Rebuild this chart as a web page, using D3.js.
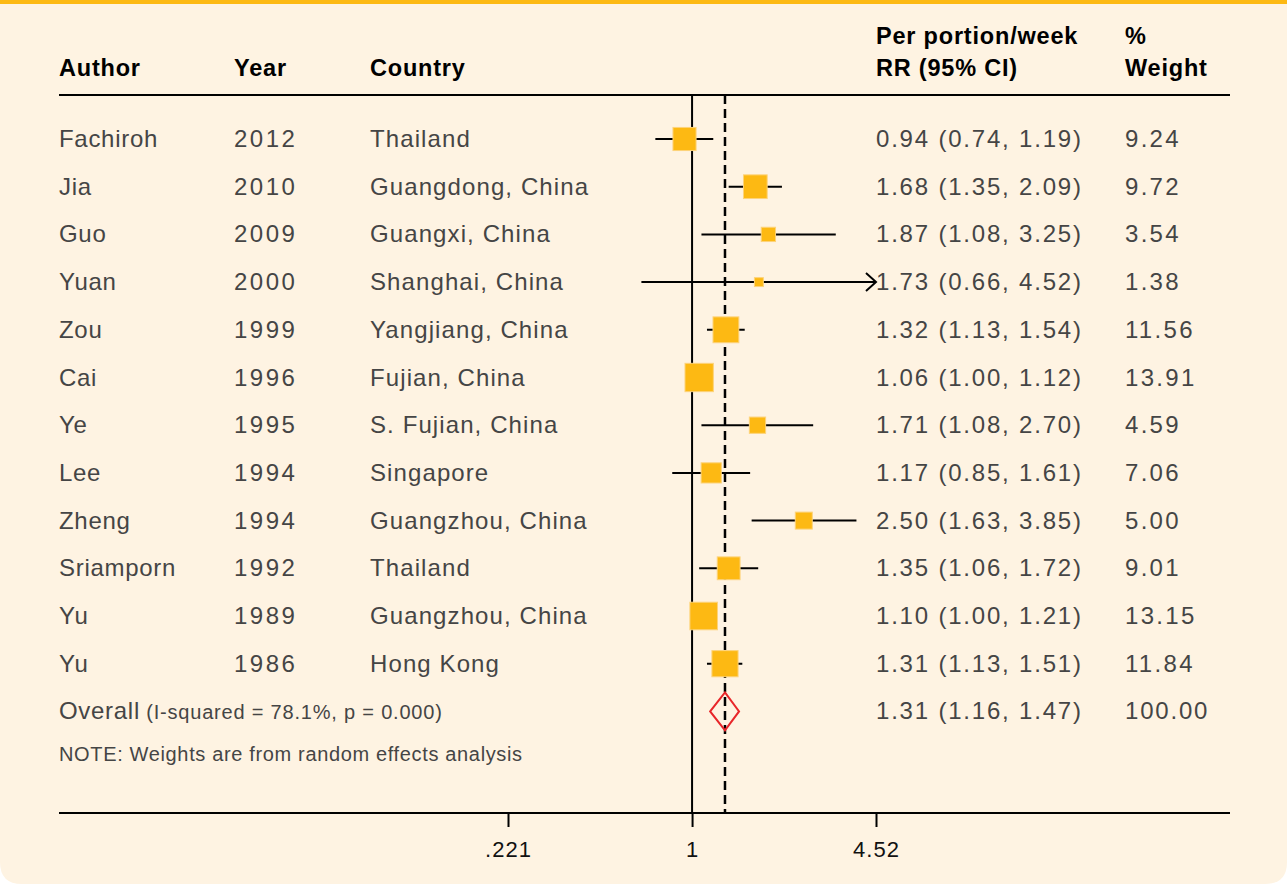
<!DOCTYPE html>
<html>
<head>
<meta charset="utf-8">
<script src="https://cdn.jsdelivr.net/npm/d3@7"></script>
<style>
  body { margin: 0; background: #fff; }
  text { font-family: "Liberation Sans", Arial, sans-serif; }
</style>
</head>
<body>
<div id="chart"></div>
<script>
(function() {

  // study rows, top to bottom
  var authors   = ["Fachiroh", "Jia", "Guo", "Yuan", "Zou", "Cai", "Ye", "Lee", "Zheng", "Sriamporn", "Yu", "Yu"];
  var years     = ["2012", "2010", "2009", "2000", "1999", "1996", "1995", "1994", "1994", "1992", "1989", "1986"];
  var countries = ["Thailand", "Guangdong, China", "Guangxi, China", "Shanghai, China", "Yangjiang, China",
                   "Fujian, China", "S. Fujian, China", "Singapore", "Guangzhou, China", "Thailand",
                   "Guangzhou, China", "Hong Kong"];
  var rr      = [0.94, 1.68, 1.87, 1.73, 1.32, 1.06, 1.71, 1.17, 2.50, 1.35, 1.10, 1.31];
  var ciLow   = [0.74, 1.35, 1.08, 0.66, 1.13, 1.00, 1.08, 0.85, 1.63, 1.06, 1.00, 1.13];
  var ciHigh  = [1.19, 2.09, 3.25, 4.52, 1.54, 1.12, 2.70, 1.61, 3.85, 1.72, 1.21, 1.51];
  var weights = [9.24, 9.72, 3.54, 1.38, 11.56, 13.91, 4.59, 7.06, 5.00, 9.01, 13.15, 11.84];

  // pooled estimate
  var overall = { rr: 1.31, lo: 1.16, hi: 1.47, weight: "100.00" };
  var overallStats = "(I-squared = 78.1%, p = 0.000)";
  var note = "NOTE: Weights are from random effects analysis";

  var tickValues = [0.221, 1, 4.52];
  var tickLabels = [".221", "1", "4.52"];

  var W = 1287, H = 886;
  var top = 95, bottom = 813, left = 59, right = 1230;
  var row0 = 139, rowStep = 47.7;
  var col = { author: 59, year: 234, country: 370, rr: 876, weight: 1125 };

  var svg = d3.select("#chart").append("svg")
    .attr("width", W).attr("height", H);

  // panel with rounded bottom corners
  var r = 22;
  svg.append("path")
    .attr("d", "M0,0 H" + W + " V" + (H - 2 - r) + " Q" + W + "," + (H - 2) + " " + (W - r) + "," + (H - 2) +
               " H" + r + " Q0," + (H - 2) + " 0," + (H - 2 - r) + " Z")
    .attr("fill", "#fef3e2");
  svg.append("rect").attr("x", 0).attr("y", 0).attr("width", W).attr("height", 4).attr("fill", "#fdb913");

  var x = d3.scaleLog().domain([tickValues[0], tickValues[2]]).range([508, 876]);
  var y = function(i) { return row0 + i * rowStep; };
  var fmt = d3.format(".2f");

  // headers
  var head = svg.append("g").attr("font-weight", "bold").attr("font-size", 23.5)
    .attr("fill", "#000").attr("letter-spacing", "0.8px");
  head.append("text").attr("x", col.author).attr("y", 76).text("Author");
  head.append("text").attr("x", col.year).attr("y", 76).text("Year");
  head.append("text").attr("x", col.country).attr("y", 76).text("Country");
  head.append("text").attr("x", col.rr).attr("y", 44).text("Per portion/week");
  head.append("text").attr("x", col.rr).attr("y", 76).text("RR (95% CI)");
  head.append("text").attr("x", col.weight).attr("y", 44).text("%");
  head.append("text").attr("x", col.weight).attr("y", 76).text("Weight");

  svg.append("line").attr("x1", left).attr("x2", right).attr("y1", top).attr("y2", top)
    .attr("stroke", "#000").attr("stroke-width", 2);

  // reference lines
  svg.append("line").attr("x1", x(1)).attr("x2", x(1)).attr("y1", top).attr("y2", bottom)
    .attr("stroke", "#000").attr("stroke-width", 2);
  svg.append("line").attr("x1", x(overall.rr)).attr("x2", x(overall.rr)).attr("y1", top).attr("y2", bottom)
    .attr("stroke", "#000").attr("stroke-width", 2.5).attr("stroke-dasharray", "9,5");

  // table text
  var body = svg.append("g").attr("font-size", 24).attr("fill", "#454545");
  authors.forEach(function(a, i) {
    var yy = y(i) + 8;
    body.append("text").attr("x", col.author).attr("y", yy).attr("letter-spacing", "0.7px").text(a);
    body.append("text").attr("x", col.year).attr("y", yy).attr("letter-spacing", "2.5px").text(years[i]);
    body.append("text").attr("x", col.country).attr("y", yy).attr("letter-spacing", "1.1px").text(countries[i]);
    body.append("text").attr("x", col.rr).attr("y", yy).attr("letter-spacing", "1.8px")
      .text(fmt(rr[i]) + " (" + fmt(ciLow[i]) + ", " + fmt(ciHigh[i]) + ")");
    body.append("text").attr("x", col.weight).attr("y", yy).attr("letter-spacing", "2.3px").text(fmt(weights[i]));
  });

  // CI lines and boxes
  var marks = svg.append("g");
  rr.forEach(function(v, i) {
    var yy = y(i);
    var xEnd = Math.min(x(ciHigh[i]), x.range()[1]);
    marks.append("line").attr("x1", x(ciLow[i])).attr("x2", xEnd).attr("y1", yy).attr("y2", yy)
      .attr("stroke", "#000").attr("stroke-width", 2);
    if (ciHigh[i] >= x.domain()[1]) {
      marks.append("path")
        .attr("d", "M" + (xEnd - 10) + "," + (yy - 9) + " L" + xEnd + "," + yy + " L" + (xEnd - 10) + "," + (yy + 9))
        .attr("fill", "none").attr("stroke", "#000").attr("stroke-width", 2);
    }
    var s = 7.6 * Math.sqrt(weights[i]);
    marks.append("rect").attr("x", x(v) - s / 2).attr("y", yy - s / 2).attr("width", s).attr("height", s)
      .attr("fill", "#fdb913").attr("stroke", "#fdd37a").attr("stroke-width", 1);
  });

  // overall row
  var oy = y(authors.length);
  body.append("text").attr("x", col.author).attr("y", oy + 8).attr("letter-spacing", "0.7px")
    .text("Overall")
    .append("tspan").attr("font-size", 20).attr("letter-spacing", "0.8px").text(" " + overallStats);
  body.append("text").attr("x", col.rr).attr("y", oy + 8).attr("letter-spacing", "1.8px")
    .text(fmt(overall.rr) + " (" + fmt(overall.lo) + ", " + fmt(overall.hi) + ")");
  body.append("text").attr("x", col.weight).attr("y", oy + 8).attr("letter-spacing", "1.8px").text(overall.weight);
  svg.append("path")
    .attr("d", "M" + x(overall.lo) + "," + oy + " L" + x(overall.rr) + "," + (oy - 19) +
               " L" + x(overall.hi) + "," + oy + " L" + x(overall.rr) + "," + (oy + 19) + " Z")
    .attr("fill", "none").attr("stroke", "#e8262a").attr("stroke-width", 2);

  svg.append("text").attr("x", col.author).attr("y", 761)
    .attr("font-size", 20).attr("fill", "#454545").attr("letter-spacing", "0.65px").text(note);

  // bottom axis
  svg.append("line").attr("x1", left).attr("x2", right).attr("y1", bottom).attr("y2", bottom)
    .attr("stroke", "#000").attr("stroke-width", 2);
  var axis = svg.append("g").attr("transform", "translate(0," + bottom + ")")
    .call(d3.axisBottom(x).tickValues(tickValues)
      .tickFormat(function(d, i) { return tickLabels[i]; })
      .tickSize(14).tickPadding(14));
  axis.select(".domain").remove();
  axis.selectAll(".tick line").attr("stroke", "#000").attr("stroke-width", 2);
  axis.selectAll(".tick text").attr("font-size", 22).attr("fill", "#111").attr("letter-spacing", "1px")
    .attr("font-family", "'Liberation Sans', Arial, sans-serif");

})();
</script>
</body>
</html>
